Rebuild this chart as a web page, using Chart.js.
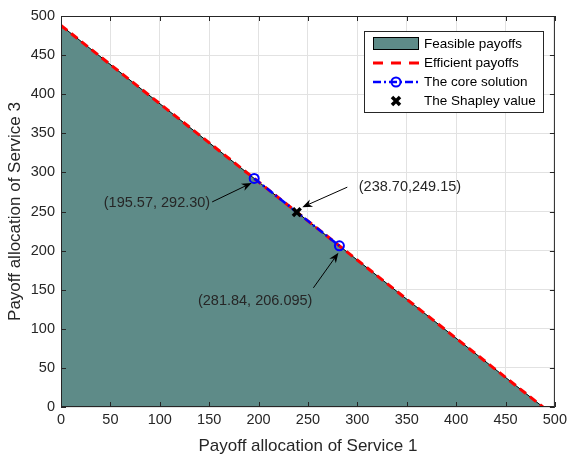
<!DOCTYPE html>
<html>
<head>
<meta charset="utf-8">
<script src="https://cdn.jsdelivr.net/npm/chart.js@4/dist/chart.umd.min.js"></script>
<style>
html,body{margin:0;padding:0;background:#fff;}
#wrap{width:571px;height:455px;position:relative;}
</style>
</head>
<body>
<div id="wrap"><canvas id="c" width="571" height="455"></canvas></div>
<script>
// ---- data ----
const feasibleX = [0, 487.9];
const feasibleY = [487.9, 0];
const efficientX = [0, 487.9];
const efficientY = [487.9, 0];
const coreX = [195.57, 281.84];
const coreY = [292.30, 206.095];
const shapleyX = [238.70];
const shapleyY = [249.15];
const coreLabels = ['(195.57, 292.30)', '(281.84, 206.095)'];
const shapleyLabel = '(238.70,249.15)';
const legendLabels = ['Feasible payoffs', 'Efficient payoffs', 'The core solution', 'The Shapley value'];
const xTitle = 'Payoff allocation of Service 1';
const yTitle = 'Payoff allocation of Service 3';

const FONT = '"Liberation Sans", Arial, Helvetica, sans-serif';
const TXT = '#262626';
const TEAL = 'rgb(94,139,136)';
const toPts = (xs, ys) => xs.map((x, i) => ({x: x, y: ys[i]}));

function arrow(ctx, x0, y0, x1, y1) {
  const ang = Math.atan2(y1 - y0, x1 - x0);
  const L = 10, W = 4, B = 7;
  ctx.save();
  ctx.strokeStyle = '#000'; ctx.fillStyle = '#000'; ctx.lineWidth = 1;
  ctx.beginPath(); ctx.moveTo(x0, y0);
  ctx.lineTo(x1 - Math.cos(ang) * B, y1 - Math.sin(ang) * B); ctx.stroke();
  ctx.translate(x1, y1); ctx.rotate(ang);
  ctx.beginPath(); ctx.moveTo(0, 0); ctx.lineTo(-L, -W); ctx.lineTo(-B, 0); ctx.lineTo(-L, W);
  ctx.closePath(); ctx.fill();
  ctx.restore();
}

const decor = {
  id: 'decor',
  afterDatasetsDraw(chart) {
    const ctx = chart.ctx, a = chart.chartArea, xs = chart.scales.x, ys = chart.scales.y;
    ctx.save();
    // box
    ctx.strokeStyle = TXT; ctx.lineWidth = 1;
    ctx.strokeRect(a.left + 0.5, a.top + 0.5, a.right - a.left - 1, a.bottom - a.top - 1);
    // inward ticks
    ctx.beginPath();
    xs.ticks.forEach(t => {
      const px = Math.round(xs.getPixelForValue(t.value)) + 0.5;
      ctx.moveTo(px, a.bottom); ctx.lineTo(px, a.bottom - 5);
      ctx.moveTo(px, a.top); ctx.lineTo(px, a.top + 5);
    });
    ys.ticks.forEach(t => {
      const py = Math.round(ys.getPixelForValue(t.value)) + 0.5;
      ctx.moveTo(a.left, py); ctx.lineTo(a.left + 5, py);
      ctx.moveTo(a.right, py); ctx.lineTo(a.right - 5, py);
    });
    ctx.stroke();

    // annotations
    ctx.font = '14.5px ' + FONT; ctx.fillStyle = TXT; ctx.textBaseline = 'middle';
    const p1 = {x: xs.getPixelForValue(coreX[0]), y: ys.getPixelForValue(coreY[0])};
    const p2 = {x: xs.getPixelForValue(coreX[1]), y: ys.getPixelForValue(coreY[1])};
    const ps = {x: xs.getPixelForValue(shapleyX[0]), y: ys.getPixelForValue(shapleyY[0])};
    ctx.textAlign = 'right';
    ctx.fillText(coreLabels[0], p1.x - 44, p1.y + 25);
    arrow(ctx, p1.x - 42, p1.y + 23.5, p1.x - 2.5, p1.y + 4.5);
    ctx.fillText(coreLabels[1], p2.x - 27, p2.y + 55);
    arrow(ctx, p2.x - 26, p2.y + 42, p2.x - 1, p2.y + 7);
    ctx.textAlign = 'left';
    ctx.fillText(shapleyLabel, ps.x + 62, ps.y - 25);
    arrow(ctx, ps.x + 50.5, ps.y - 25, ps.x + 5.5, ps.y - 5);

    // legend
    const lx = 364, ly = 31, lw = 179, lh = 81;
    ctx.fillStyle = '#fff'; ctx.fillRect(lx, ly, lw, lh);
    ctx.strokeStyle = TXT; ctx.lineWidth = 1; ctx.strokeRect(lx + 0.5, ly + 0.5, lw, lh);
    const rows = [44, 63, 82, 101], s0 = 373, s1 = 419, sc = 396;
    // row 1 patch
    ctx.fillStyle = TEAL; ctx.fillRect(s0, 37, s1 - s0, 12);
    ctx.strokeStyle = '#000'; ctx.strokeRect(s0 + 0.5, 37.5, s1 - s0 - 1, 12);
    // row 2 red dashed
    ctx.strokeStyle = '#ff0000'; ctx.lineWidth = 3; ctx.setLineDash([10, 8]);
    ctx.beginPath(); ctx.moveTo(s0, rows[1]); ctx.lineTo(s1, rows[1]); ctx.stroke();
    // row 3 blue dash-dot with circle
    ctx.strokeStyle = '#0000ff'; ctx.lineWidth = 2.5; ctx.setLineDash([8, 3, 2, 3]);
    ctx.beginPath(); ctx.moveTo(s0, rows[2]); ctx.lineTo(s1, rows[2]); ctx.stroke();
    ctx.setLineDash([]); ctx.lineWidth = 2;
    ctx.beginPath(); ctx.arc(sc, rows[2], 4.5, 0, Math.PI * 2); ctx.stroke();
    // row 4 X
    ctx.strokeStyle = '#000'; ctx.lineWidth = 3.5;
    ctx.beginPath();
    ctx.moveTo(sc - 4, rows[3] - 4); ctx.lineTo(sc + 4, rows[3] + 4);
    ctx.moveTo(sc + 4, rows[3] - 4); ctx.lineTo(sc - 4, rows[3] + 4);
    ctx.stroke();
    ctx.fillStyle = '#000'; ctx.font = '13.5px ' + FONT; ctx.textAlign = 'left';
    legendLabels.forEach((t, i) => ctx.fillText(t, 424, rows[i] + 0.5));

    // axis titles
    ctx.fillStyle = TXT; ctx.font = '17px ' + FONT; ctx.textAlign = 'center';
    ctx.fillText(xTitle, (a.left + a.right) / 2, 446);
    ctx.save(); ctx.translate(15, (a.top + a.bottom) / 2); ctx.rotate(-Math.PI / 2);
    ctx.fillText(yTitle, 0, 0); ctx.restore();
    ctx.restore();
  }
};

new Chart(document.getElementById('c'), {
  type: 'scatter',
  data: {
    datasets: [
      {data: toPts(feasibleX, feasibleY), showLine: true, fill: 'origin', backgroundColor: TEAL,
       borderColor: '#000', borderWidth: 1, pointRadius: 0, order: 4},
      {data: toPts(efficientX, efficientY), showLine: true, fill: false, borderColor: '#ff0000',
       borderWidth: 3, borderDash: [8, 5], pointRadius: 0, order: 3},
      {data: toPts(coreX, coreY), showLine: true, fill: false, borderColor: '#0000ff', borderWidth: 2.5,
       borderDash: [8, 3, 2, 3], pointRadius: 4.5, pointBorderWidth: 2, pointBorderColor: '#0000ff',
       pointBackgroundColor: 'rgba(0,0,0,0)', order: 2},
      {data: toPts(shapleyX, shapleyY), showLine: false, pointStyle: 'crossRot', pointRadius: 5.5,
       pointBorderWidth: 3.5, pointBorderColor: '#000', order: 1}
    ]
  },
  options: {
    responsive: false, animation: false, devicePixelRatio: 1,
    layout: {padding: {top: 16, right: 15, left: 0, bottom: 0}},
    plugins: {legend: {display: false}, tooltip: {enabled: false}},
    scales: {
      x: {type: 'linear', min: 0, max: 500,
          ticks: {stepSize: 50, color: TXT, font: {size: 14.5, family: FONT}, padding: 4, maxRotation: 0},
          grid: {color: '#e2e2e2', drawTicks: false}, border: {display: false},
          afterFit: s => { s.height = 48; }},
      y: {type: 'linear', min: 0, max: 500,
          ticks: {stepSize: 50, color: TXT, font: {size: 14.5, family: FONT}, padding: 6},
          grid: {color: '#e2e2e2', drawTicks: false}, border: {display: false},
          afterFit: s => { s.width = 61; }}
    }
  },
  plugins: [decor]
});
</script>
</body>
</html>
